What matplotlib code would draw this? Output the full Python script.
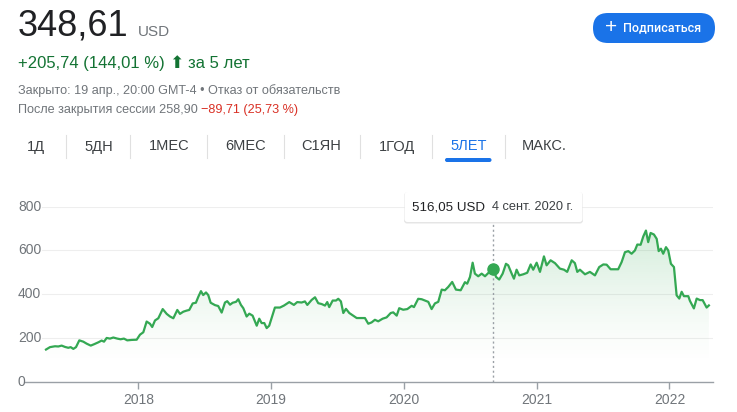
import matplotlib.pyplot as plt
import numpy as np
from matplotlib.patches import FancyBboxPatch, Polygon
from matplotlib import transforms

plt.rcParams['font.family'] = ['Liberation Sans', 'DejaVu Sans']

W, H = 737, 412

# price series (decimal year, USD)
years = [
    2017.305, 2017.335, 2017.373, 2017.398, 2017.423, 2017.448, 2017.473, 2017.491,
    2017.511, 2017.531, 2017.556, 2017.586, 2017.611, 2017.642, 2017.666, 2017.699,
    2017.724, 2017.742, 2017.762, 2017.787, 2017.812, 2017.842, 2017.867, 2017.892,
    2017.917, 2017.950, 2017.988, 2018.013, 2018.038, 2018.063, 2018.088, 2018.105,
    2018.126, 2018.151, 2018.184, 2018.214, 2018.239, 2018.264, 2018.294, 2018.314,
    2018.339, 2018.364, 2018.384, 2018.410, 2018.434, 2018.452, 2018.472, 2018.489,
    2018.510, 2018.527, 2018.545, 2018.578, 2018.602, 2018.628, 2018.653, 2018.670,
    2018.691, 2018.711, 2018.736, 2018.753, 2018.773, 2018.791, 2018.816, 2018.836,
    2018.861, 2018.892, 2018.911, 2018.929, 2018.949, 2018.967, 2018.986, 2019.012,
    2019.029, 2019.067, 2019.097, 2019.137, 2019.172, 2019.197, 2019.230, 2019.255,
    2019.273, 2019.306, 2019.331, 2019.355, 2019.381, 2019.406, 2019.423, 2019.438,
    2019.464, 2019.489, 2019.506, 2019.526, 2019.544, 2019.564, 2019.589, 2019.619,
    2019.645, 2019.682, 2019.707, 2019.732, 2019.757, 2019.782, 2019.807, 2019.840,
    2019.870, 2019.901, 2019.920, 2019.946, 2019.965, 2019.995, 2020.026, 2020.059,
    2020.076, 2020.108, 2020.134, 2020.159, 2020.184, 2020.209, 2020.234, 2020.259,
    2020.285, 2020.309, 2020.334, 2020.364, 2020.392, 2020.428, 2020.460, 2020.477,
    2020.498, 2020.518, 2020.535, 2020.560, 2020.586, 2020.611, 2020.636, 2020.675,
    2020.694, 2020.718, 2020.744, 2020.769, 2020.786, 2020.812, 2020.829, 2020.849,
    2020.869, 2020.899, 2020.929, 2020.955, 2020.974, 2021.000, 2021.025, 2021.055,
    2021.075, 2021.105, 2021.138, 2021.175, 2021.206, 2021.230, 2021.264, 2021.288,
    2021.306, 2021.326, 2021.364, 2021.401, 2021.439, 2021.471, 2021.502, 2021.527,
    2021.557, 2021.590, 2021.614, 2021.640, 2021.665, 2021.690, 2021.715, 2021.740,
    2021.758, 2021.783, 2021.803, 2021.823, 2021.840, 2021.858, 2021.883, 2021.904,
    2021.919, 2021.936, 2021.953, 2021.974, 2021.991, 2022.011, 2022.034, 2022.054,
    2022.074, 2022.092, 2022.109, 2022.142, 2022.154, 2022.184, 2022.205, 2022.230,
    2022.250, 2022.280, 2022.297,
]
prices = [
    147, 158, 162, 161, 165, 159, 155, 158,
    150, 158, 189, 183, 174, 165, 171, 180,
    188, 183, 200, 197, 202, 197, 194, 197,
    189, 191, 192, 215, 226, 275, 265, 250,
    280, 290, 332, 310, 298, 290, 328, 310,
    320, 325, 328, 358, 361, 388, 414, 396,
    408, 396, 361, 350, 346, 316, 362, 368,
    352, 361, 365, 377, 351, 336, 298, 311,
    302, 256, 288, 268, 268, 245, 256, 306,
    339, 339, 348, 364, 351, 364, 362, 367,
    351, 374, 386, 359, 355, 348, 364, 341,
    371, 371, 379, 367, 314, 333, 314, 302,
    291, 291, 291, 265, 271, 283, 276, 288,
    294, 314, 317, 302, 336, 329, 332, 347,
    341, 379, 377, 371, 365, 332, 358, 365,
    421, 418, 433, 456, 421, 418, 455, 448,
    479, 544, 494, 482, 494, 482, 497, 516.05,
    479, 467, 494, 539, 532, 494, 471, 512,
    486, 491, 498, 536, 512, 544, 502, 573,
    532, 555, 542, 517, 512, 502, 555, 542,
    502, 512, 491, 502, 486, 524, 536, 535,
    514, 514, 514, 547, 592, 597, 585, 600,
    627, 626, 664, 691, 638, 680, 673, 653,
    597, 608, 585, 615, 600, 539, 524, 395,
    380, 411, 391, 391, 370, 335, 380, 373,
    373, 339, 348.61,
]

y_ticks = [0, 200, 400, 600, 800]
x_ticks = [2018, 2019, 2020, 2021, 2022]
tabs = ['1Д', '5ДН', '1МЕС', '6МЕС', 'С1ЯН', '1ГОД', '5ЛЕТ', 'МАКС.']
active_tab = '5ЛЕТ'

sel_index = years.index(2020.675)
sel_label = '516,05 USD'
sel_date = '4 сент. 2020 г.'

GREEN = '#34a853'
GRAY = '#70757a'

fig = plt.figure(figsize=(W / 100, H / 100), dpi=100)
renderer = fig.canvas.get_renderer()


def put(x, y, s, **kw):
    # x, y in pixels from the top-left corner
    return fig.text(x / W, 1 - y / H, s, **kw)


def right_of(t):
    return t.get_window_extent(renderer).x1


# header
t = put(18, 36, '348,61', fontsize=26, color='#202124', va='baseline')
put(right_of(t) + 9, 36, 'USD', fontsize=11, color=GRAY, va='baseline')

t = put(18, 68, '+205,74 (144,01 %)', fontsize=12, color='#137333', va='baseline')
t = put(right_of(t) + 4, 67.5, '⬆', fontsize=12.5, color='#137333', va='baseline',
        family='DejaVu Sans')
put(right_of(t) + 5, 68, 'за 5 лет', fontsize=12, color='#137333', va='baseline')

put(18, 94, 'Закрыто: 19 апр., 20:00 GMT-4 • Отказ от обязательств',
    fontsize=9.1, color=GRAY, va='baseline')
t = put(18, 113, 'После закрытия сессии 258,90 ', fontsize=9.1, color=GRAY,
        va='baseline')
put(right_of(t), 113, '−89,71 (25,73 %)', fontsize=9.1, color='#d93025',
    va='baseline')

# subscribe button
btn = FancyBboxPatch((593, H - 43), 122, 30,
                     boxstyle='round,pad=0,rounding_size=15',
                     fc='#1a73e8', ec='none', transform=None)
fig.add_artist(btn)
put(611, 27.5, '+', fontsize=15, color='white', ha='center', va='center')
put(623, 28, 'Подписаться', fontsize=9, color='white', va='center',
    family=['Roboto', 'DejaVu Sans'], fontweight='medium')

# range tabs
tab_x = [27, 84, 149, 225, 301, 379, 450, 522]
sep_x = [66, 130, 207, 284, 360, 432, 505]
for x, name in zip(tab_x, tabs):
    c = '#1a73e8' if name == active_tab else '#3c4043'
    t = put(x, 146.5, name, fontsize=10.5, color=c, va='center')
    if name == active_tab:
        bb = t.get_window_extent(renderer)
        bar = FancyBboxPatch((bb.x0 - 5, H - 162), bb.width + 10, 4,
                             boxstyle='round,pad=0,rounding_size=2',
                             fc='#1a73e8', ec='none', transform=None)
        fig.add_artist(bar)
for x in sep_x:
    fig.add_artist(plt.Line2D([x / W, x / W], [1 - 135 / H, 1 - 158 / H],
                              color='#e0e0e0', lw=0.8))

# chart
ax = fig.add_axes([25 / W, 1 - 381.7 / H, 688 / W, 175 / H])
ax.set_xlim(2017.147, 2022.328)
ax.set_ylim(0, 800)
ax.patch.set_alpha(0)
for s in ['top', 'left', 'right']:
    ax.spines[s].set_visible(False)
ax.spines['bottom'].set_color('#9aa0a6')
ax.spines['bottom'].set_linewidth(1)
ax.set_yticks([])
ax.set_xticks(x_ticks)
ax.set_xticklabels([str(v) for v in x_ticks])
ax.tick_params(axis='x', length=5, width=1, color='#9aa0a6', labelcolor=GRAY,
               labelsize=10, pad=3)

for v in y_ticks[1:]:
    ax.axhline(v, xmin=17 / 688, xmax=1, color='#eeeeee', lw=0.8, zorder=0)
lab_tr = transforms.blended_transform_factory(fig.transFigure, ax.transData)
for v in y_ticks:
    ax.text(18 / W, v, str(v), transform=lab_tr, ha='left', va='center',
            fontsize=10, color=GRAY)

# gradient area under the line
verts = list(zip(years, prices)) + [(years[-1], 0), (years[0], 0)]
clip = Polygon(verts, closed=True, fc='none', ec='none')
ax.add_patch(clip)
grad = np.linspace(0, 1, 256)[:, None]
rgba = np.zeros((256, 1, 4))
rgba[..., 0] = 0x34 / 255
rgba[..., 1] = 0xa8 / 255
rgba[..., 2] = 0x53 / 255
rgba[..., 3] = 0.22 * np.clip((grad - 0.1) / 0.8, 0, 1) ** 1.3
im = ax.imshow(rgba, origin='lower', aspect='auto',
               extent=[years[0], years[-1], 0, 800], zorder=1)
im.set_clip_path(clip)

ax.plot(years, prices, color=GREEN, lw=1.6, zorder=3, solid_joinstyle='round')

sx, sy = years[sel_index], prices[sel_index]
ax.plot([sx, sx], [0, 730], color='#9aa0a6', lw=1, ls=(0, (1.5, 2)), zorder=2)
ax.plot(sx, sy, 'o', ms=8, color=GREEN, zorder=4)

# tooltip
cx = ax.transData.transform((sx, 0))[0]
shadow = FancyBboxPatch((cx - 89.5, H - 223.5), 179, 31,
                        boxstyle='round,pad=0,rounding_size=3',
                        fc='#000000', ec='none', alpha=0.10, transform=None)
box = FancyBboxPatch((cx - 89, H - 222), 178, 30,
                     boxstyle='round,pad=0,rounding_size=3',
                     fc='white', ec='none', transform=None)
fig.add_artist(shadow)
fig.add_artist(box)
t = put(cx - 81, 207, sel_label, fontsize=9.6, color='#202124', va='center')
put(right_of(t) + 7, 207, sel_date, fontsize=9.2, color='#3c4043', va='center')

fig.savefig('out.png', dpi=100)
